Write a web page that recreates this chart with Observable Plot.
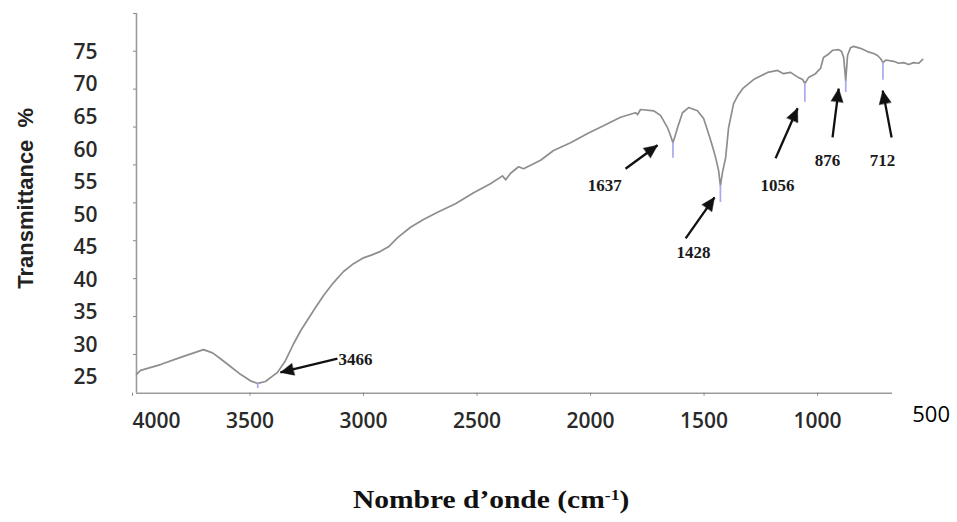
<!DOCTYPE html>
<html>
<head>
<meta charset="utf-8">
<script src="https://cdn.jsdelivr.net/npm/d3@7"></script>
<script src="https://cdn.jsdelivr.net/npm/@observablehq/plot@0.6"></script>
<style>
  html, body { margin: 0; padding: 0; background: #fff; }
  body { width: 957px; height: 522px; position: relative; overflow: hidden; }
  #chart { position: absolute; left: 0; top: 0; }
  #xtitle {
    position: absolute; left: 0; top: 487px; width: 957px; box-sizing: border-box;
    padding-left: 26px; text-align: center;
    font-family: "Liberation Serif", "Times New Roman", serif; font-weight: bold;
    font-size: 25px; line-height: 25px; color: #111;
  }
  #xtitle span { display: inline-block; transform: scaleX(1.18); }
  #xtitle sup { font-size: 0.6em; line-height: 0; vertical-align: 0.55em; }
</style>
</head>
<body>
<div id="chart"></div>
<div id="xtitle"><span>Nombre d’onde (cm<sup>-1</sup>)</span></div>
<script>
// Spectrum (wavenumber in cm-1, transmittance in %)
const wavenumber = [
  4000, 3982, 3894, 3806, 3705, 3665, 3630, 3586, 3542, 3498,
  3466, 3432, 3379, 3344, 3308, 3277, 3220, 3176, 3132, 3088,
  3044, 3000, 2960, 2925, 2890, 2850, 2793, 2736, 2674, 2595,
  2515, 2441, 2388, 2374, 2352, 2317, 2295, 2220, 2163, 2088,
  2013, 1943, 1868, 1802, 1793, 1780, 1722, 1692, 1661, 1648,
  1637, 1626, 1617, 1595, 1568, 1529, 1502, 1485, 1467, 1449,
  1436, 1428, 1419, 1405, 1392, 1370, 1352, 1330, 1282, 1220,
  1176, 1150, 1119, 1084, 1066, 1056, 1040, 1009, 996, 987,
  974, 956, 934, 907, 894, 885, 876, 868, 855, 841,
  811, 780, 753, 736, 722, 712, 700, 665, 643, 621,
  599, 577, 555, 537
];
const transmittance = [
  25.5, 26.1, 27.0, 28.1, 29.3, 28.8, 27.9, 26.7, 25.5, 24.5,
  24.1, 24.4, 25.8, 27.6, 30.2, 32.2, 35.3, 37.6, 39.6, 41.3,
  42.5, 43.4, 43.9, 44.4, 45.1, 46.5, 48.1, 49.3, 50.4, 51.7,
  53.4, 54.8, 56.0, 55.4, 56.4, 57.4, 57.1, 58.4, 59.9, 61.1,
  62.5, 63.7, 65.0, 65.7, 65.4, 66.2, 66.0, 65.3, 63.4, 62.2,
  61.1, 62.3, 63.4, 65.7, 66.5, 66.0, 64.8, 63.0, 61.0, 58.8,
  56.8, 54.5, 56.5, 58.8, 63.4, 67.1, 68.3, 69.4, 70.8, 71.9,
  72.2, 71.7, 71.9, 71.1, 70.8, 70.2, 71.1, 71.7, 72.2, 72.5,
  74.2, 74.6, 75.3, 75.4, 75.1, 74.2, 70.6, 74.5, 75.7, 75.9,
  75.6, 75.1, 74.8, 74.5, 74.0, 73.4, 73.8, 73.6, 73.3, 73.4,
  73.1, 73.4, 73.3, 73.9
];

// Annotated bands
const peakLabels     = ["3466", "1637", "1428", "1056", "876", "712"];
const peakWavenumber = [3466, 1637, 1428, 1056, 876, 712];
const peakTop        = [24.1, 61.1, 54.5, 70.2, 70.6, 73.4];
const peakBottom     = [23.3, 58.7, 51.9, 67.3, 68.8, 70.7];
const arrowTailW     = [3115, 1846, 1581, 1185, 934, 674];
const arrowTailT     = [27.9, 57.1, 46.4, 58.7, 61.9, 61.9];
const arrowTipW      = [3366, 1705, 1454, 1088, 907, 713];
const arrowTipT      = [25.8, 60.7, 52.7, 66.4, 69.4, 69.1];
const labelW         = [3035, 1938, 1546, 1176, 956, 714];
const labelT         = [27.8, 54.5, 44.2, 54.5, 58.4, 58.4];

// Axes
const yTickLabels = [25, 30, 35, 40, 45, 50, 55, 60, 65, 70, 75];
const yTickMarks  = [80.95, 75.15, 69.33, 63.5, 57.68, 51.85, 46.03, 40.2, 34.38, 28.55];
const xTickLabels = [4000, 3500, 3000, 2500, 2000, 1500, 1000];
const xExtraLabel = [500];
const xDomain = [4000, 670];
const yDomain = [22.6, 80.95];

const spectrum = wavenumber.map((w, i) => ({w, t: transmittance[i]}));
const peaks = peakLabels.map((label, i) => ({
  label, w: peakWavenumber[i], top: peakTop[i], bottom: peakBottom[i],
  x1: arrowTailW[i], y1: arrowTailT[i], x2: arrowTipW[i], y2: arrowTipT[i],
  lx: labelW[i], ly: labelT[i]
}));

const plain = d => String(d);
const tickFont = {fontFamily: "'Open Sans', sans-serif", fontSize: 21, fontWeight: 600, fill: "#2a2a2a", tickFormat: plain};

const chart = Plot.plot({
  width: 957,
  height: 460,
  marginLeft: 136,
  marginRight: 65,
  marginTop: 13,
  marginBottom: 67.3,
  x: {domain: xDomain, label: null, axis: null},
  y: {domain: yDomain, label: null, axis: null},
  style: {background: "white", overflow: "visible"},
  marks: [
    Plot.ruleY([yDomain[0]], {stroke: "#9b9b9b", strokeWidth: 1.6}),
    Plot.ruleX([xDomain[0]], {stroke: "#9b9b9b", strokeWidth: 1.6}),
    Plot.axisY(yTickMarks, {anchor: "left", tickSize: 3, stroke: "#888", tickFormat: () => "", label: null}),
    Plot.axisY(yTickLabels, {anchor: "left", tickSize: 0, tickPadding: 39, label: null, ...tickFont}),
    Plot.axisX(xTickLabels.slice(0, 1), {anchor: "bottom", tickSize: 3, tickPadding: 17, stroke: "#888",
      textAnchor: "start", dx: -4, label: null, ...tickFont}),
    Plot.axisX(xTickLabels.slice(1), {anchor: "bottom", tickSize: 3, tickPadding: 17, stroke: "#888",
      label: null, ...tickFont}),
    Plot.axisX(xExtraLabel, {anchor: "bottom", tickSize: 0, tickPadding: 13, label: null, tickFormat: plain,
      fontFamily: "'Open Sans', sans-serif", fontSize: 22, fontWeight: 400, fill: "#000"}),
    Plot.line(spectrum, {x: "w", y: "t", stroke: "#8e8e8e", strokeWidth: 1.7}),
    Plot.ruleX(peaks, {x: "w", y1: "bottom", y2: "top", stroke: "#a9a9f2", strokeWidth: 1.7}),
    Plot.link(peaks, {x1: "x1", y1: "y1", x2: "x2", y2: "y2", stroke: "#111", strokeWidth: 2.3, markerEnd: "arrow"}),
    Plot.text(peaks, {x: "lx", y: "ly", text: "label", fontFamily: "'Liberation Serif', serif",
      fontWeight: "bold", fontSize: 17, fill: "#1a1a1a"}),
    Plot.text(["Transmittance\u00A0\u00A0%"], {text: d => d, frameAnchor: "left", textAnchor: "middle",
      rotate: -90, dx: -111, dy: -5,
      fontFamily: "'Liberation Sans', Arial, sans-serif", fontWeight: "bold", fontSize: 22, fill: "#222"})
  ]
});

// Filled arrow heads
d3.select(chart).selectAll("marker")
  .attr("viewBox", "-10 -5 10 10")
  .attr("overflow", "visible")
  .attr("fill", "#111").attr("stroke", "#111").attr("stroke-width", 0.3)
  .selectAll("path").attr("d", "M-8.5,-3.9L0,0L-8.5,3.9Z");

document.getElementById("chart").appendChild(chart);
</script>
</body>
</html>
